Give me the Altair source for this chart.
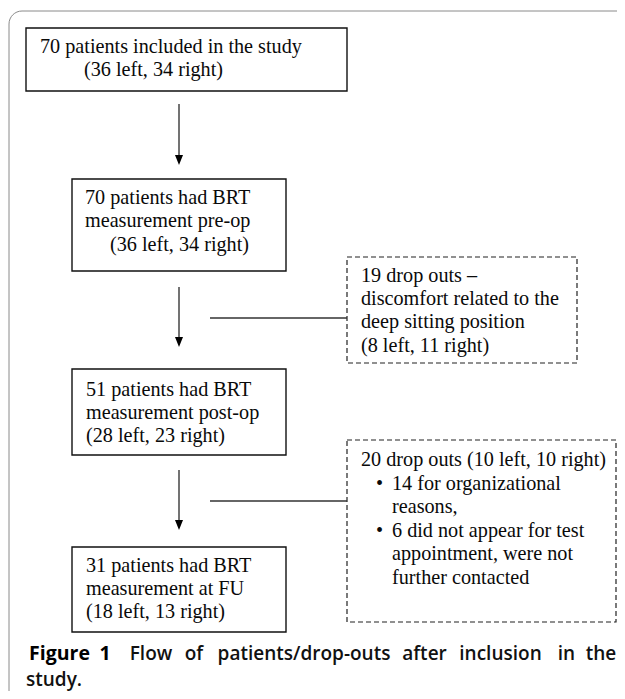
import altair as alt
import pandas as pd

# ---------------- texts (content) ----------------
box1_lines = ["70 patients included in the study", "(36 left, 34 right)"]
box2_lines = ["70 patients had BRT", "measurement pre-op", "(36 left, 34 right)"]
drop1_lines = ["19 drop outs \u2013", "discomfort related to the", "deep sitting position", "(8 left, 11 right)"]
box3_lines = ["51 patients had BRT", "measurement post-op", "(28 left, 23 right)"]
drop2_header = ["20 drop outs (10 left, 10 right)"]
drop2_items = ["14 for organizational", "reasons,", "6 did not appear for test", "appointment, were not", "further contacted"]
drop2_bullet_marks = ["\u2022", "", "\u2022", "", ""]
box4_lines = ["31 patients had BRT", "measurement at FU", "(18 left, 13 right)"]
caption_label = ["Figure", "1"]
caption_rest = ["Flow", "of", "patients/drop-outs", "after", "inclusion", "in", "the"]
caption_end = ["study."]

# ---------------- layout (pixel positions) ----------------
boxes = pd.DataFrame({
    "x0": [26, 72, 72, 72, 347, 347],
    "x1": [347, 286, 286, 286, 577, 616],
    "y0": [28, 179, 369, 547, 257, 440],
    "y1": [91, 271, 455, 632, 363, 622],
    "dashed": [False, False, False, False, True, True],
})

arrows = pd.DataFrame({"x": [179, 179, 179], "y0": [104, 287, 470], "tip": [165, 347, 530]})
arrows["head"] = arrows["tip"] - 5
connectors = pd.DataFrame({"x0": [210, 210], "x1": [347, 347], "y": [318, 501]})

serif_rows = []
def add(lines, xs, ys):
    for t, x, y in zip(lines, xs, ys):
        if t:
            serif_rows.append({"text": t, "x": x, "y": y})

add(box1_lines, [40, 84], [53, 76])
add(box2_lines, [85, 85, 110], [204, 227, 251])
add(drop1_lines, [361] * 4, [282, 305, 328, 352])
add(box3_lines, [86] * 3, [396, 419, 442])
add(drop2_header, [361], [466])
add(drop2_bullet_marks, [376] * 5, [490, 513, 537, 560, 584])
add(drop2_items, [392] * 5, [490, 513, 537, 560, 584])
add(box4_lines, [86] * 3, [572, 595, 618])
serif = pd.DataFrame(serif_rows)

# caption words placed at their (justified) centres
cap_bold = pd.DataFrame({"text": caption_label, "x": [59.5, 105], "y": [660, 660]})
cap_semi = pd.DataFrame({
    "text": caption_rest,
    "x": [151, 194, 304, 424.5, 500.5, 566.5, 601],
    "y": [660] * 7,
})
cap_last = pd.DataFrame({"text": caption_end, "x": [26], "y": [686]})

xs = alt.Scale(domain=[8, 617])
ys = alt.Scale(domain=[691, 8])
X = lambda f: alt.X(f, type="quantitative", scale=xs, axis=None)
Y = lambda f: alt.Y(f, type="quantitative", scale=ys, axis=None)

frame = alt.Chart(pd.DataFrame({"x0": [9], "x1": [800], "y0": [11], "y1": [900]})).mark_rect(
    fill=None, stroke="#8a8a8a", strokeWidth=1, cornerRadiusTopLeft=13
).encode(x=X("x0"), x2="x1", y=Y("y0"), y2="y1")

solid = alt.Chart(boxes[~boxes.dashed]).mark_rect(
    fill="white", stroke="#111111", strokeWidth=1.4
).encode(x=X("x0"), x2="x1", y=Y("y0"), y2="y1")

dashed = alt.Chart(boxes[boxes.dashed]).mark_rect(
    fill="white", stroke="#222222", strokeWidth=1.2, strokeDash=[5, 3]
).encode(x=X("x0"), x2="x1", y=Y("y0"), y2="y1")

arrow_lines = alt.Chart(arrows).mark_rule(color="#444444", strokeWidth=1.5).encode(
    x=X("x"), y=Y("y0"), y2="head"
)
arrow_heads = alt.Chart(arrows).mark_point(
    shape="M-0.8,-1L0.8,-1L0,1Z", filled=True, color="#000000", size=100, opacity=1
).encode(x=X("x"), y=Y("head"))

conn = alt.Chart(connectors).mark_rule(color="#333333", strokeWidth=1.5).encode(
    x=X("x0"), x2="x1", y=Y("y")
)

texts = alt.Chart(serif).mark_text(
    align="left", baseline="alphabetic", font="Liberation Serif", fontSize=20.2, color="#0a0a0a"
).encode(x=X("x"), y=Y("y"), text="text:N")

cap1 = alt.Chart(cap_bold).mark_text(
    align="center", baseline="alphabetic", font="Open Sans", fontSize=19.5, fontWeight="bold", color="#000000"
).encode(x=X("x"), y=Y("y"), text="text:N")
cap2 = alt.Chart(cap_semi).mark_text(
    align="center", baseline="alphabetic", font="Open Sans", fontSize=19, fontWeight=600, color="#111111"
).encode(x=X("x"), y=Y("y"), text="text:N")
cap3 = alt.Chart(cap_last).mark_text(
    align="left", baseline="alphabetic", font="Open Sans", fontSize=19, fontWeight=600, color="#111111"
).encode(x=X("x"), y=Y("y"), text="text:N")

chart = alt.layer(frame, solid, dashed, arrow_lines, arrow_heads, conn, texts, cap1, cap2, cap3).properties(
    width=609, height=683, padding=0, autosize=alt.AutoSizeParams(type="none"), background="white"
).configure_view(stroke=None)

chart.save("out.html", embed_options={"renderer": "svg", "actions": False})
